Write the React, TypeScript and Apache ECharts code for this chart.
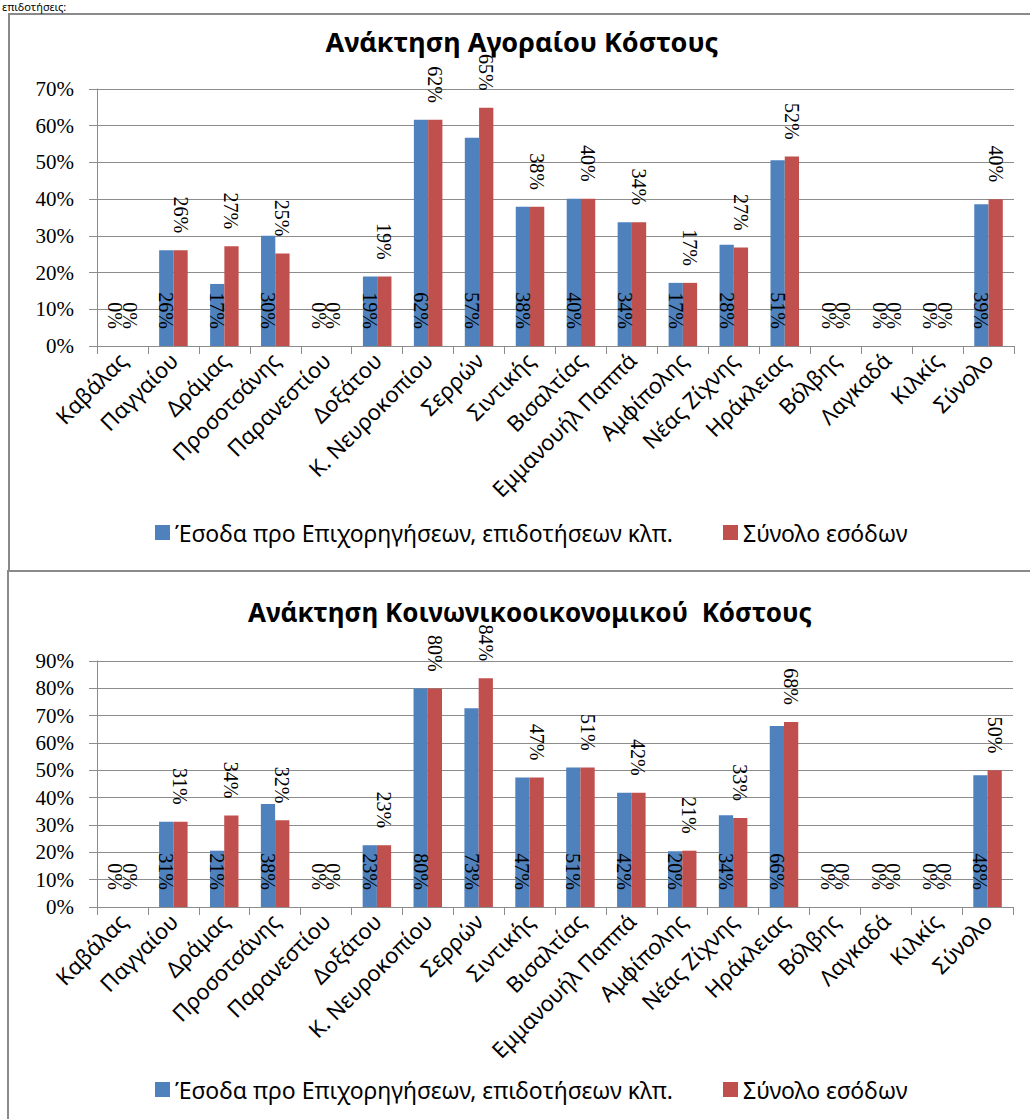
import React, { useEffect, useRef } from "react";
import * as echarts from "echarts";

const categories = [
  "Καβάλας", "Παγγαίου", "Δράμας", "Προσοτσάνης", "Παρανεστίου", "Δοξάτου",
  "Κ. Νευροκοπίου", "Σερρών", "Σιντικής", "Βισαλτίας", "Εμμανουήλ Παππά",
  "Αμφίπολης", "Νέας Ζίχνης", "Ηράκλειας", "Βόλβης", "Λαγκαδά", "Κιλκίς", "Σύνολο",
];

const seriesNames = ["Έσοδα προ Επιχορηγήσεων, επιδοτήσεων κλπ.", "Σύνολο εσόδων"];

const titles = ["Ανάκτηση Αγοραίου Κόστους", "Ανάκτηση Κοινωνικοοικονομικού  Κόστους"];

// Chart 1: market cost recovery (%)
const marketPreSubsidy = [0, 26.1, 16.9, 30.0, 0, 18.9, 61.6, 56.7, 37.9, 40.1, 33.7, 17.2, 27.6, 50.6, 0, 0, 0, 38.6];
const marketTotal = [0, 26.1, 27.2, 25.2, 0, 18.9, 61.6, 64.9, 37.9, 40.1, 33.7, 17.2, 26.8, 51.6, 0, 0, 0, 40.0];

// Chart 2: socio-economic cost recovery (%)
const socioPreSubsidy = [0, 31.2, 20.6, 37.7, 0, 22.6, 79.9, 72.7, 47.4, 51.0, 41.8, 20.4, 33.6, 66.2, 0, 0, 0, 48.2];
const socioTotal = [0, 31.2, 33.5, 31.7, 0, 22.6, 79.9, 83.7, 47.4, 51.0, 41.8, 20.6, 32.6, 67.7, 0, 0, 0, 50.0];

const yMax = [70, 90];
const yTicksStep = 10;

const BLUE = "#4F81BD";
const RED = "#C0504D";
const GRID_COLOR = "#8c8c8c";

export default function App() {
  const ref = useRef<HTMLDivElement>(null);

  useEffect(() => {
    if (!ref.current) return;
    const chart = echarts.init(ref.current, undefined, { renderer: "svg" });

    const fmt = (p: any) => Math.round(p.value) + "%";
    const labelFont = { fontFamily: "Liberation Serif", fontSize: 20, color: "#000" };

    const baseLabel = (pos: string) => ({
      show: true,
      position: pos,
      rotate: -90,
      align: "right",
      verticalAlign: "middle",
      distance: 17,
      formatter: fmt,
      ...labelFont,
    });

    const makeSeries = (gi: number, blue: number[], red: number[]) => [
      {
        type: "bar",
        name: seriesNames[0],
        xAxisIndex: gi,
        yAxisIndex: gi,
        data: blue,
        barGap: "0%",
        barCategoryGap: "44%",
        itemStyle: { color: BLUE },
        label: baseLabel("insideBottom"),
      },
      {
        type: "bar",
        name: seriesNames[1],
        xAxisIndex: gi,
        yAxisIndex: gi,
        data: red,
        barGap: "0%",
        barCategoryGap: "44%",
        itemStyle: { color: RED },
        label: baseLabel("top"),
      },
    ];

    const xAxis = (gi: number) => ({
      type: "category",
      gridIndex: gi,
      data: categories,
      axisLine: { lineStyle: { color: GRID_COLOR } },
      axisTick: { show: true, length: 8, lineStyle: { color: GRID_COLOR } },
      axisLabel: {
        interval: 0,
        rotate: 45,
        hideOverlap: false,
        margin: 10,
        fontFamily: "Noto Sans",
        fontSize: 22,
        color: "#000",
      },
    });

    const yAxis = (gi: number) => ({
      type: "value",
      gridIndex: gi,
      min: 0,
      max: yMax[gi],
      interval: yTicksStep,
      axisLine: { show: true, lineStyle: { color: GRID_COLOR } },
      axisTick: { show: true, length: 8, lineStyle: { color: GRID_COLOR } },
      splitLine: { lineStyle: { color: GRID_COLOR, width: 1 } },
      axisLabel: {
        formatter: "{value}%",
        margin: 23,
        fontFamily: "Liberation Serif",
        fontSize: 21,
        color: "#000",
      },
    });

    const legend = (top: number) => ({
      data: seriesNames,
      left: 150,
      top,
      itemWidth: 15,
      itemHeight: 15,
      itemGap: 50,
      icon: "rect",
      textStyle: { fontFamily: "Noto Sans", fontSize: 23, color: "#000" },
      selectedMode: false,
    });

    chart.setOption({
      animation: false,
      backgroundColor: "#fff",
      title: [
        {
          text: titles[0],
          left: 517,
          textAlign: "center",
          top: 23,
          textStyle: { fontFamily: "Noto Sans", fontWeight: "bold", fontSize: 27, color: "#000" },
        },
        {
          text: titles[1],
          left: 525,
          textAlign: "center",
          top: 594,
          textStyle: { fontFamily: "Noto Sans", fontWeight: "bold", fontSize: 26, color: "#000" },
        },
      ],
      legend: [legend(516), legend(1073)],
      grid: [
        { left: 97, right: 16, top: 89, height: 257 },
        { left: 97, right: 17, top: 661, height: 246 },
      ],
      xAxis: [xAxis(0), xAxis(1)],
      yAxis: [yAxis(0), yAxis(1)],
      series: [...makeSeries(0, marketPreSubsidy, marketTotal), ...makeSeries(1, socioPreSubsidy, socioTotal)],
      graphic: [
        {
          type: "rect",
          shape: { x: 9, y: 14, width: 1100, height: 557 },
          style: { fill: "none", stroke: "#8a8a8a", lineWidth: 2 },
          silent: true,
        },
        {
          type: "rect",
          shape: { x: 8, y: 571, width: 1100, height: 600 },
          style: { fill: "none", stroke: "#8a8a8a", lineWidth: 2 },
          silent: true,
        },
        {
          type: "text",
          x: 2,
          y: 1,
          style: {
            text: "επιδοτήσεις:",
            align: "left",
            verticalAlign: "top",
            fontFamily: "Noto Sans",
            fontSize: 11,
            fill: "#000",
          },
          silent: true,
        },
      ],
    });

    return () => chart.dispose();
  }, []);

  return (
    <div
      ref={ref}
      style={{ position: "absolute", left: 0, top: 0, width: 1030, height: 1119 }}
    />
  );
}
